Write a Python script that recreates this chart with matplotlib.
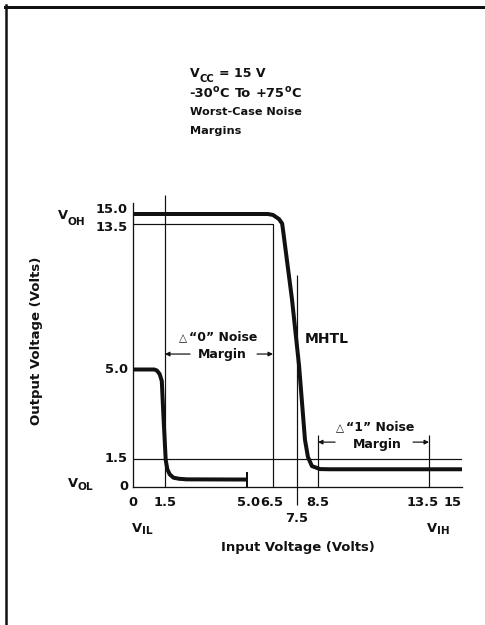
import numpy as np
import matplotlib
matplotlib.use('Agg')
import matplotlib.pyplot as plt
from matplotlib.lines import Line2D

W, H, DPI = 485, 625, 72
INK = '#111111'

# transfer curves (input volts -> output volts)
zero_vin = [0, 1.0, 1.12, 1.25, 1.35, 1.42, 1.53, 1.6, 1.7, 1.86, 2.1, 2.43, 5.0]
zero_vout = [5.0, 5.0, 4.96, 4.82, 4.55, 3.3, 1.45, 0.95, 0.68, 0.5, 0.44, 0.41, 0.40]
mhtl_vin = [0, 6.2, 6.5, 6.75, 6.88, 6.92, 7.29, 7.6, 7.88, 8.02, 8.21, 8.59, 9.0, 15.1]
mhtl_vout = [15.0, 15.0, 14.85, 14.2, 13.5, 13.1, 9.1, 5.2, 2.25, 1.58, 1.12, 0.96, 0.95, 0.95]

x_ticks = [0, 1.5, 5.0, 6.5, 8.5, 13.5, 15]
x_tick_labels = ['0', '1.5', '5.0', '6.5', '8.5', '13.5', '15']
y_ticks = [0, 1.5, 5.0, 13.5, 15.0]
y_tick_labels = ['0', '1.5', '5.0', '13.5', '15.0']

# guide levels
v_il_low, v_oh_low = 1.5, 13.5       # "0" margin window
v_ih_mhtl, v_th_mhtl = 8.5, 7.5
v_low_ref = 1.5
v_ih_max = 13.5
v_zero_end = 5.0

# the drawing is schematic, axes are not linear: piecewise mapping volts -> pixels
x_anchor_v = [-10, 0, 1.5, 5, 6.5, 7.5, 8.5, 13.5, 15, 30]
x_anchor_px = [-80, 133, 165, 247, 273, 297, 318, 429, 460, 760]
y_anchor_v = [-10, 0, 1.5, 5, 13.5, 15, 17, 40]
y_anchor_px = [674, 487, 459, 369.5, 223.5, 214, 195, -24]
y_anchor_pos = [H - p for p in y_anchor_px]


def fwd_x(v):
    return np.interp(v, x_anchor_v, x_anchor_px)


def inv_x(p):
    return np.interp(p, x_anchor_px, x_anchor_v)


def fwd_y(v):
    return np.interp(v, y_anchor_v, y_anchor_pos)


def inv_y(p):
    return np.interp(p, y_anchor_pos, y_anchor_v)


def ftext(fig, x, y, s, **kw):
    # place text by pixel position of the reference
    return fig.text(x / W, 1 - y / H, s, color=INK, **kw)


def pieces(fig, x, y, parts, ha='left'):
    # parts: (text, size, drop below baseline in px, gap before in px)
    renderer = fig.canvas.get_renderer()
    placed = []
    cx = x
    for s, size, drop, gap in parts:
        cx += gap
        t = ftext(fig, cx, y + drop, s, fontsize=size, ha='left', va='baseline')
        cx += t.get_window_extent(renderer).width
        placed.append(t)
    if ha == 'center':
        shift = (cx - x) / 2.0
        for t in placed:
            px, py = t.get_position()
            t.set_position((px - shift / W, py))
    return placed


plt.rcParams['font.family'] = ['DejaVu Sans']
plt.rcParams['font.weight'] = 'bold'

fig = plt.figure(figsize=(W / DPI, H / DPI), dpi=DPI)
fig.patch.set_facecolor('white')

x_right = 15.1
y_top = 17.0
left_px, right_px = 133, 462
bottom_pos, top_pos = H - 487, H - 195
ax = fig.add_axes([left_px / W, bottom_pos / H, (right_px - left_px) / W, (top_pos - bottom_pos) / H])
ax.set_xscale('function', functions=(fwd_x, inv_x))
ax.set_yscale('function', functions=(fwd_y, inv_y))
ax.set_xlim(0, x_right)
ax.set_ylim(0, y_top)
ax.set_xticks([])
ax.set_yticks([])
ax.patch.set_alpha(0)
for side in ['top', 'right']:
    ax.spines[side].set_visible(False)
for side in ['left', 'bottom']:
    ax.spines[side].set_linewidth(1.3)
    ax.spines[side].set_color(INK)
ax.spines['left'].set_bounds(0, 16.16)
ax.spines['bottom'].set_bounds(0, x_right)

thin = dict(color=INK, lw=1.2, solid_capstyle='butt')
ax.plot([0, 6.5, 6.5], [v_oh_low, v_oh_low, 0], **thin)
ax.plot([0, x_right], [v_low_ref, v_low_ref], **thin)
ax.plot([v_il_low, v_il_low], [0, y_top], clip_on=False, **thin)
ax.plot([v_th_mhtl, v_th_mhtl], [-0.96, 10.5], clip_on=False, **thin)
ax.plot([v_ih_mhtl, v_ih_mhtl], [0, 2.44], **thin)
ax.plot([v_ih_max, v_ih_max], [0, 2.44], **thin)

thick = dict(color=INK, lw=4, solid_joinstyle='round', solid_capstyle='butt', clip_on=False)
ax.plot(zero_vin, zero_vout, **thick)
ax.plot(mhtl_vin, mhtl_vout, **thick)
ax.plot([v_zero_end, v_zero_end], [0, 0.75], color=INK, lw=2)

# tick labels
y_offsets = {'15.0': 5, '13.5': -4}
for v, s in zip(y_ticks, y_tick_labels):
    ax.annotate(s, xy=(0, v), xycoords=ax.get_yaxis_transform(), xytext=(-5, y_offsets.get(s, 0)),
                textcoords='offset points', ha='right', va='center', fontsize=13, color=INK)
x_offsets = {'13.5': -6, '15': -7, '5.0': 1, '6.5': -1}
for v, s in zip(x_ticks, x_tick_labels):
    ax.annotate(s, xy=(v, 0), xycoords=ax.get_xaxis_transform(), xytext=(x_offsets.get(s, 0), -15),
                textcoords='offset points', ha='center', va='center', fontsize=13, color=INK)
ax.annotate('7.5', xy=(v_th_mhtl, 0), xycoords=ax.get_xaxis_transform(), xytext=(0, -32),
            textcoords='offset points', ha='center', va='center', fontsize=13, color=INK)

# noise margin arrows
arrow = dict(arrowstyle='-|>', lw=1.2, color=INK, mutation_scale=9, shrinkA=0, shrinkB=0)
ax.annotate('', xy=(v_il_low, 5.9), xytext=(2.57, 5.9), arrowprops=arrow)
ax.annotate('', xy=(6.5, 5.9), xytext=(5.58, 5.9), arrowprops=arrow)
ax.annotate('', xy=(v_ih_mhtl, 2.16), xytext=(9.27, 2.16), arrowprops=arrow)
ax.annotate('', xy=(v_ih_max, 2.16), xytext=(12.78, 2.16), arrowprops=arrow)

tri = dict(fontweight='normal')
t0 = pieces(fig, 218, 341, [('\u25b3', 10.5, 0, 0), ('\u201c0\u201d Noise', 12.5, 0, 2)], ha='center')
t1 = pieces(fig, 375, 431, [('\u25b3', 10.5, 0, 0), ('\u201c1\u201d Noise', 12.5, 0, 2)], ha='center')
t0[0].set_fontweight('normal')
t1[0].set_fontweight('normal')
ftext(fig, 222, 358, 'Margin', ha='center', va='baseline', fontsize=12.5)
ftext(fig, 377, 448, 'Margin', ha='center', va='baseline', fontsize=12.5)
ftext(fig, 305, 343, 'MHTL', ha='left', va='baseline', fontsize=14)

# level names
pieces(fig, 58, 219, [('V', 13, 0, 0), ('OH', 10.5, 6, 0)])
pieces(fig, 68, 487, [('V', 13, 0, 0), ('OL', 10.5, 3, 0)])
pieces(fig, 132, 532, [('V', 13, 0, 0), ('IL', 10.5, 2, 0)])
pieces(fig, 427, 532, [('V', 13, 0, 0), ('IH', 10.5, 2, 0)])

# conditions block
pieces(fig, 190, 77, [('V', 12.5, 0, 0), ('CC', 10, 5, 0), ('=', 12.5, 0, 4), ('15 V', 12.5, 0, 5)])
pieces(fig, 189, 97, [('-30', 13, 0, 0), ('o', 9.5, -5, 0), ('C', 13, 0, 0),
                      ('To', 13, 0, 6), ('+75', 13, 0, 5), ('o', 9.5, -5, 0), ('C', 13, 0, 0)])
ftext(fig, 190, 115, 'Worst-Case Noise', ha='left', va='baseline', fontsize=11.2)
ftext(fig, 190, 134, 'Margins', ha='left', va='baseline', fontsize=11.2)

# axis titles
ftext(fig, 37, 341, 'Output Voltage (Volts)', rotation=90, ha='center', va='center', fontsize=13.3)
ftext(fig, 298, 548, 'Input Voltage (Volts)', ha='center', va='center', fontsize=13.1)

# page frame (left and top edges only)
fig.add_artist(Line2D([6 / W, 6 / W], [0, 1 - 5 / H], transform=fig.transFigure, color=INK, lw=2.5))
fig.add_artist(Line2D([5 / W, 1], [1 - 6.5 / H, 1 - 6.5 / H], transform=fig.transFigure, color=INK, lw=3))

fig.savefig('out.png', dpi=DPI, facecolor='white')
